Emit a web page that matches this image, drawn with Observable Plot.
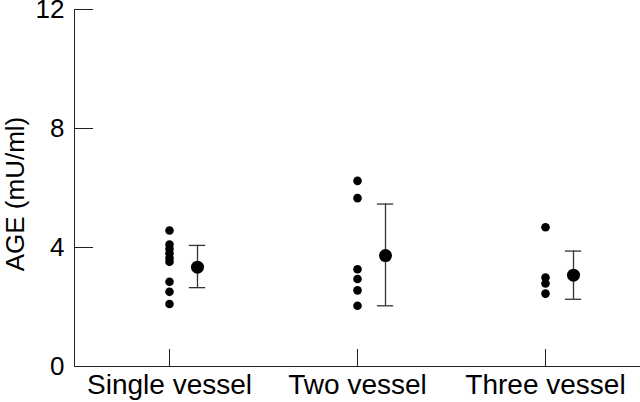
<!DOCTYPE html>
<html>
<head>
<meta charset="utf-8">
<script src="https://cdn.jsdelivr.net/npm/d3@7"></script>
<script src="https://cdn.jsdelivr.net/npm/@observablehq/plot@0.6"></script>
<style>
  html, body { margin: 0; padding: 0; background: #fff; }
</style>
</head>
<body>
<div id="chart"></div>
<script>
const categories = ["Single vessel", "Two vessel", "Three vessel"];
const singleValues = [4.57, 4.1, 3.95, 3.8, 3.65, 3.52, 2.85, 2.51, 2.1];
const twoValues = [6.24, 5.66, 3.27, 2.94, 2.56, 2.04];
const threeValues = [4.68, 2.99, 2.79, 2.45];
const means = [3.34, 3.73, 3.07];
const lows = [2.65, 2.04, 2.26];
const highs = [4.07, 5.46, 3.88];
const yTicks = [0, 4, 8, 12];
const yLabel = "AGE (mU/ml)";

const points = [
  ...singleValues.map(v => ({group: categories[0], value: v})),
  ...twoValues.map(v => ({group: categories[1], value: v})),
  ...threeValues.map(v => ({group: categories[2], value: v}))
];
const summary = categories.map((c, i) => ({group: c, mean: means[i], lo: lows[i], hi: highs[i]}));

const W = 640, H = 402;
const mLeft = 74, mRight = 0;
const bw = (W - mLeft - mRight) / categories.length;
const off = 28, cap = 8.5;

const chart = Plot.plot({
  width: W,
  height: H,
  marginLeft: mLeft,
  marginRight: mRight,
  marginTop: 9,
  marginBottom: 36,
  style: {fontFamily: "'Liberation Sans', Arial, Helvetica, sans-serif", fontSize: "26px", color: "#000", background: "#fff"},
  x: {type: "band", domain: categories, padding: 0},
  y: {domain: [0, 12]},
  marks: [
    Plot.frame({anchor: "left", stroke: "#222"}),
    Plot.ruleY([0], {stroke: "#222"}),
    Plot.axisY({ticks: yTicks, tickSize: -19, tickPadding: 29, stroke: "#222", label: null}),
    Plot.text([yLabel], {text: d => d, frameAnchor: "left", textAnchor: "middle", lineAnchor: "middle", rotate: -90, dx: -59, dy: 6, fontSize: 26}),
    Plot.axisX({tickSize: -17, tickPadding: 25, stroke: "#222", label: null, fontSize: 28}),
    Plot.dot(points, {x: "group", y: "value", r: 4.3, fill: "#000", stroke: "none"}),
    Plot.ruleX(summary, {x: "group", y1: "lo", y2: "hi", dx: off, stroke: "#333", strokeWidth: 1.3}),
    Plot.tickY(summary, {x: "group", y: "hi", stroke: "#333", strokeWidth: 1.3,
      insetLeft: bw / 2 + off - cap, insetRight: bw / 2 - off - cap}),
    Plot.tickY(summary, {x: "group", y: "lo", stroke: "#333", strokeWidth: 1.3,
      insetLeft: bw / 2 + off - cap, insetRight: bw / 2 - off - cap}),
    Plot.dot(summary, {x: "group", y: "mean", dx: off, r: 6.5, fill: "#000", stroke: "none"})
  ]
});
document.getElementById("chart").appendChild(chart);
</script>
</body>
</html>
